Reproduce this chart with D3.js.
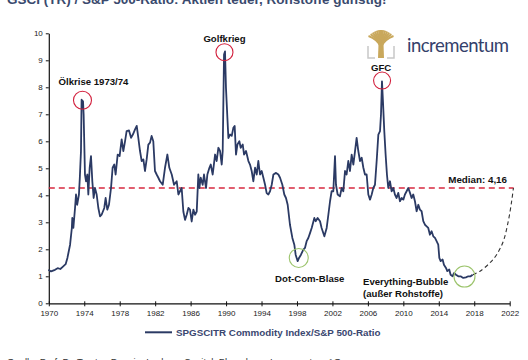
<!DOCTYPE html>
<html><head><meta charset="utf-8">
<script src="https://cdn.jsdelivr.net/npm/d3@7"></script>
<style>
html,body{margin:0;padding:0;background:#fff;}
svg{display:block;font-family:"Liberation Sans",Arial,sans-serif;}
</style></head><body>
<svg id="chart" width="528" height="360"></svg>
<script>
// ---- data ----
const years = [1969.95,1970.25,1970.7,1971.0,1971.3,1971.6,1971.9,1972.1,1972.4,1972.6,1972.65,1972.77,1972.96,1973.07,1973.2,1973.4,1973.5,1973.63,1973.7,1973.86,1973.93,1974.08,1974.2,1974.35,1974.46,1974.61,1974.76,1974.91,1975.06,1975.21,1975.4,1975.59,1975.78,1975.96,1976.26,1976.41,1976.6,1976.79,1977.02,1977.2,1977.39,1977.54,1977.77,1977.99,1978.22,1978.41,1978.6,1978.78,1979.05,1979.28,1979.5,1979.73,1979.92,1980.1,1980.29,1980.48,1980.67,1980.85,1981.04,1981.23,1981.42,1981.6,1981.79,1981.98,1982.17,1982.36,1982.55,1982.85,1983.11,1983.38,1983.6,1983.87,1984.13,1984.43,1984.62,1984.8,1984.99,1985.18,1985.37,1985.56,1985.75,1985.93,1986.12,1986.31,1986.5,1986.69,1986.87,1986.99,1987.14,1987.36,1987.51,1987.74,1987.89,1988.12,1988.27,1988.49,1988.76,1988.94,1989.13,1989.32,1989.51,1989.62,1989.77,1989.88,1989.99,1990.15,1990.26,1990.45,1990.64,1990.82,1990.97,1991.12,1991.28,1991.5,1991.65,1991.88,1992.03,1992.25,1992.52,1992.7,1992.89,1993.08,1993.27,1993.46,1993.64,1993.83,1994.02,1994.21,1994.4,1994.58,1994.77,1994.96,1995.15,1995.34,1995.64,1995.9,1996.09,1996.35,1996.57,1996.76,1996.95,1997.21,1997.48,1997.7,1997.85,1998.08,1998.23,1998.45,1998.72,1998.9,1999.09,1999.28,1999.47,1999.66,1999.96,2000.11,2000.33,2000.6,2000.78,2001.09,2001.35,2001.54,2001.73,2001.91,2002.1,2002.29,2002.4,2002.59,2002.85,2003.04,2003.23,2003.42,2003.6,2003.79,2003.98,2004.17,2004.36,2004.55,2004.73,2004.92,2005.11,2005.3,2005.49,2005.67,2005.86,2006.05,2006.24,2006.43,2006.61,2006.8,2006.99,2007.18,2007.37,2007.48,2007.59,2007.7,2007.85,2008.0,2008.15,2008.3,2008.49,2008.68,2008.87,2009.05,2009.24,2009.43,2009.62,2009.81,2010.0,2010.18,2010.37,2010.56,2010.75,2010.93,2011.12,2011.31,2011.5,2011.69,2011.87,2012.06,2012.25,2012.44,2012.63,2012.81,2013.0,2013.19,2013.38,2013.57,2013.75,2013.94,2014.06,2014.21,2014.43,2014.58,2014.81,2014.96,2015.18,2015.33,2015.56,2015.71,2015.94,2016.2,2016.46,2016.76,2017.06,2017.33,2017.59,2017.82];
const ratio = [1.24,1.18,1.24,1.3,1.27,1.36,1.45,1.68,2.17,2.79,3.16,2.79,3.53,4.03,3.65,4.03,4.65,5.64,7.54,7.48,7.0,4.77,4.52,4.77,4.03,5.02,5.45,4.52,3.9,4.27,4.03,3.53,3.22,3.28,3.53,3.9,3.47,3.65,4.27,5.02,5.14,4.77,5.51,5.45,6.07,5.64,6.0,6.38,6.4,6.13,6.26,6.44,6.57,6.13,5.64,5.27,5.33,4.9,5.33,5.88,5.95,6.2,6.0,4.9,4.77,4.65,4.52,4.39,5.02,5.51,5.02,4.77,4.39,4.52,4.03,4.15,4.27,3.4,3.09,3.28,3.53,3.47,3.03,3.47,3.28,3.4,4.77,4.27,4.65,4.39,4.77,4.27,4.77,5.02,5.14,4.77,5.51,5.27,5.76,5.64,5.14,5.64,9.21,9.33,7.97,6.86,6.12,6.25,6.2,6.5,6.57,5.51,5.88,6.0,5.76,5.88,5.51,5.64,5.27,5.14,4.9,4.52,5.02,4.77,5.27,4.77,4.9,4.65,4.39,4.08,4.03,4.15,4.39,4.77,4.83,4.77,4.65,4.39,4.03,3.9,3.65,2.91,2.42,2.17,1.8,1.56,1.68,1.8,1.99,2.05,2.3,2.42,2.6,2.79,3.16,3.04,3.16,3.04,2.79,2.48,2.79,3.28,3.78,4.15,4.15,5.45,4.39,4.03,3.96,4.27,4.15,4.9,4.77,5.27,4.9,5.51,5.14,5.64,6.13,5.64,5.27,5.39,5.02,4.77,4.77,4.03,3.84,4.03,4.27,4.39,5.27,6.25,6.38,7.0,8.22,7.48,6.38,5.51,4.77,4.27,4.52,4.15,4.27,4.03,3.9,4.09,3.78,3.9,3.84,4.03,4.15,4.27,4.09,3.9,4.03,3.78,3.41,3.65,3.47,3.41,3.04,2.91,2.85,2.79,2.54,2.67,2.48,2.42,2.3,2.17,1.68,1.56,1.62,1.43,1.31,1.19,1.25,1.06,1.0,1.12,1.06,1.0,1.0,0.94,0.96,1.0,1.0,1.06];
const projYears = [2017.85,2018.65,2019.77,2020.52,2021.28,2021.84,2022.22,2022.42];
const projValues = [1.06,1.19,1.5,1.8,2.3,3.04,3.78,4.27];
const medianLevel = 4.27;
const medianLabel = "Median: 4,16";
const xTicks = [1970,1974,1978,1982,1986,1990,1994,1998,2002,2006,2010,2014,2018,2022];
const yTicks = [0,1,2,3,4,5,6,7,8,9,10];
const annotations = [
  {label:["Ölkrise 1973/74"], year:1973.8, value:7.52, color:"#d21f3c", r:9, dx:11, dy:-15, anchor:"middle"},
  {label:["Golfkrieg"], year:1989.82, value:9.3, color:"#d21f3c", r:8.5, dx:0, dy:-10, anchor:"middle"},
  {label:["GFC"], year:2007.6, value:8.25, color:"#d21f3c", r:8.5, dx:-1, dy:-10, anchor:"middle"},
  {label:["Dot-Com-Blase"], year:1998.2, value:1.68, color:"#9cc46c", r:9.5, dx:11, dy:24, anchor:"middle"},
  {label:["Everything-Bubble","(außer Rohstoffe)"], year:2016.9, value:0.99, color:"#9cc46c", r:10.5, dx:-101.5, dy:8.5, anchor:"start"}
];
const title = "GSCI (TR) / S&P 500-Ratio: Aktien teuer, Rohstoffe günstig!";
const legendLabel = "SPGSCITR Commodity Index/S&P 500-Ratio";
const source = "Quelle: Prof. Dr. Torsten Dennin, Lynkeus Capital, Bloomberg, Incrementum AG";

// ---- chart ----
const svg = d3.select("#chart");
const x = d3.scaleLinear().domain([1970,2022]).range([48.8,509.7]);
const y = d3.scaleLinear().domain([0,10]).range([303.3,33.3]);
const navy = "#2b3a64";

svg.append("text").attr("x",7).attr("y",3.5).attr("font-size",13.5).attr("font-weight","bold")
  .attr("fill","#3a4a6e").text(title);

// axes
const yAxis = svg.append("g").attr("transform",`translate(${x(1970)},0)`)
  .call(d3.axisLeft(y).tickValues(yTicks).tickSize(3).tickSizeOuter(0));
yAxis.select(".domain").attr("stroke","#111").attr("stroke-width",1.2);
yAxis.selectAll(".tick line").attr("stroke","#111");
yAxis.selectAll("text").attr("font-size",8).attr("fill","#222").attr("x",-6)
  .attr("font-family","Liberation Sans, Arial, sans-serif");

const xAxis = svg.append("g").attr("transform",`translate(0,${y(0)})`)
  .call(d3.axisBottom(x).tickValues(xTicks).tickFormat(d3.format("d")).tickSize(3).tickSizeOuter(0));
xAxis.select(".domain").attr("stroke","#111").attr("stroke-width",1.2);
xAxis.selectAll(".tick line").attr("stroke","#111").attr("y1",-2);
xAxis.selectAll("text").attr("font-size",8).attr("fill","#222").attr("y",7)
  .attr("font-family","Liberation Sans, Arial, sans-serif");

// median
svg.append("line").attr("x1",x(1970)).attr("x2",x(2022.45))
  .attr("y1",y(medianLevel)).attr("y2",y(medianLevel))
  .attr("stroke","#d7293f").attr("stroke-width",1.5).attr("stroke-dasharray","6,4");
svg.append("text").attr("x",x(2021.7)).attr("y",y(medianLevel)-5).attr("text-anchor","end")
  .attr("font-size",9.8).attr("font-weight","bold").attr("fill","#111").text(medianLabel);

// projection
const proj = projYears.map((d,i)=>[d,projValues[i]]);
svg.append("path").datum(proj)
  .attr("d",d3.line().x(d=>x(d[0])).y(d=>y(d[1])).curve(d3.curveCatmullRom))
  .attr("fill","none").attr("stroke","#333").attr("stroke-width",1.1).attr("stroke-dasharray","4,3");

// series
const series = years.map((d,i)=>[d,ratio[i]]);
svg.append("path").datum(series)
  .attr("d",d3.line().x(d=>x(d[0])).y(d=>y(d[1])))
  .attr("fill","none").attr("stroke",navy).attr("stroke-width",1.8).attr("stroke-linejoin","round");

// annotations
annotations.forEach(a=>{
  const cx = x(a.year), cy = y(a.value);
  svg.append("circle").attr("cx",cx).attr("cy",cy).attr("r",a.r)
    .attr("fill","none").attr("stroke",a.color).attr("stroke-width",1.1);
  const t = svg.append("text").attr("text-anchor",a.anchor).attr("font-size",9.6)
    .attr("font-weight","bold").attr("fill","#111");
  a.label.forEach((l,i)=>{
    t.append("tspan").attr("x",cx+a.dx).attr("y",cy+a.dy+i*11.5).text(l);
  });
});

// legend
svg.append("line").attr("x1",145).attr("x2",172).attr("y1",332.3).attr("y2",332.3)
  .attr("stroke",navy).attr("stroke-width",2);
svg.append("text").attr("x",176).attr("y",335.5).attr("font-size",9.8).attr("font-weight","bold")
  .attr("fill","#3a4770").text(legendLabel);

// source
svg.append("text").attr("x",7).attr("y",365).attr("font-size",9.5).attr("fill","#333").text(source);

// logo
const logo = svg.append("g");
const gold = "#c9a85c";
const tx = 381, ty = 47;
d3.range(0,13).forEach(i=>{
  const ex = 368.5 + i*(25/12);
  const edge = Math.abs(ex-tx)/12.5;
  const ey = 30 + edge*edge*6;
  logo.append("path")
    .attr("d",`M${tx},${ty} Q${tx+(ex-tx)*0.3},${ty-8} ${ex},${ey}`)
    .attr("fill","none").attr("stroke",gold).attr("stroke-width",2);
});
logo.append("path").attr("d",`M${tx-2.5},${ty-3} L${tx+2.5},${ty-3} L${tx+3},58 L${tx-3},58Z`).attr("fill",gold);
logo.append("path").attr("d","M368,46 L368,58 L375,58 M394,46 L394,58 L387,58")
  .attr("fill","none").attr("stroke","#c8c8c8").attr("stroke-width",1.5);
logo.append("text").attr("x",407).attr("y",51.5).attr("font-family","Lato, 'Open Sans', sans-serif")
  .attr("font-size",18.5).attr("fill","#34406a").attr("textLength",102).text("incrementum");
</script>
</body></html>
